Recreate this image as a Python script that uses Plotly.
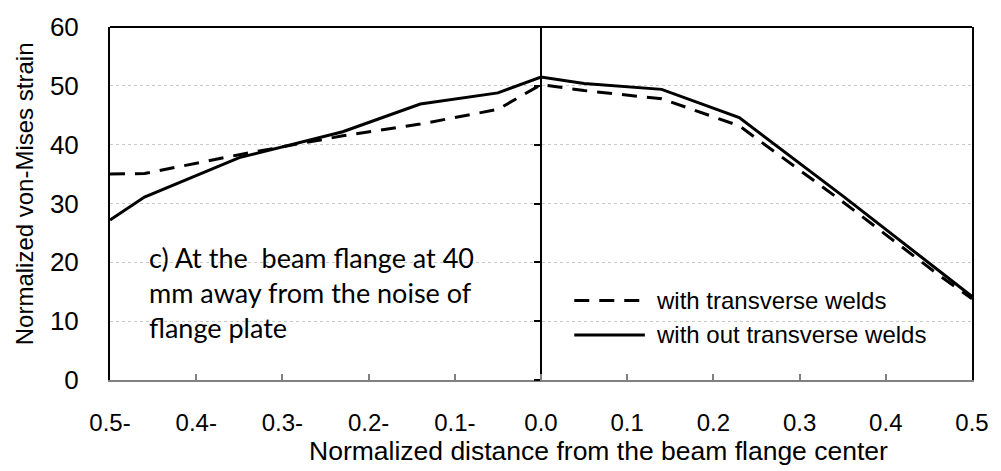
import plotly.graph_objects as go

# Normalized position along the beam flange (centre = 0)
x_pos = [-0.5, -0.46, -0.35, -0.23, -0.14, -0.05, 0.0, 0.05, 0.14, 0.23, 0.35, 0.46, 0.5]

# Normalized von-Mises strain for the two weld configurations
with_welds = [35.0, 35.1, 38.3, 41.5, 43.5, 46.0, 50.2, 49.2, 47.8, 43.2, 30.3, 18.0, 13.8]
without_welds = [27.2, 31.1, 37.8, 42.2, 46.9, 48.8, 51.5, 50.4, 49.4, 44.6, 31.3, 18.8, 14.2]

series_names = ["with transverse welds", "with out transverse welds"]

x_tick_vals = [-0.5, -0.4, -0.3, -0.2, -0.1, 0.0, 0.1, 0.2, 0.3, 0.4, 0.5]
x_tick_text = ["0.5-", "0.4-", "0.3-", "0.2-", "0.1-", "0.0", "0.1", "0.2", "0.3", "0.4", "0.5"]
y_tick_vals = [0, 10, 20, 30, 40, 50, 60]

FONT = "Liberation Sans, Arial, sans-serif"
DASH = "15px,10px"

fig = go.Figure()
fig.add_trace(go.Scatter(
    x=x_pos, y=with_welds, mode="lines", name=series_names[0],
    line=dict(color="black", width=3, dash=DASH), showlegend=False,
))
fig.add_trace(go.Scatter(
    x=x_pos, y=without_welds, mode="lines", name=series_names[1],
    line=dict(color="black", width=3), showlegend=False, yaxis="y2",
))

fig.update_layout(
    width=1001, height=471,
    margin=dict(l=110, r=24, t=20, b=91),
    paper_bgcolor="white", plot_bgcolor="white",
    font=dict(family=FONT, size=24, color="black"),
    xaxis=dict(
        range=[-0.5, 0.5], tickvals=x_tick_vals, ticktext=x_tick_text,
        showline=True, linecolor="#808080", linewidth=2,
        ticks="inside", ticklen=6, tickwidth=2, tickcolor="#808080",
        showgrid=False, zeroline=False, ticklabelstandoff=20,
        tickfont=dict(size=24),
    ),
    yaxis=dict(
        range=[0, 60], tickvals=y_tick_vals,
        showline=True, linecolor="black", linewidth=2, mirror=True,
        ticks="", showgrid=True, gridcolor="#c8c8c8", griddash="dot", gridwidth=1,
        zeroline=False, ticklabelstandoff=24, tickfont=dict(size=26),
    ),
    # centre axis drawn at x = 0 with its own tick marks
    yaxis2=dict(
        range=[0, 60], tickvals=y_tick_vals, overlaying="y", anchor="free",
        position=0.5, side="left", showline=True, linecolor="black", linewidth=2,
        ticks="outside", ticklen=6, tickwidth=2, tickcolor="black",
        showticklabels=False, showgrid=False, zeroline=False,
    ),
)

# top border of the plotting frame
fig.add_shape(type="line", xref="paper", yref="paper", x0=0, x1=1, y0=1, y1=1,
              line=dict(color="black", width=2))

# axis titles
fig.add_annotation(text="Normalized distance from the beam flange center",
                   xref="paper", yref="paper", x=0.567, y=-0.2,
                   xanchor="center", yanchor="middle", showarrow=False,
                   font=dict(family=FONT, size=26.5, color="black"))
fig.add_annotation(text="Normalized von-Mises strain",
                   xref="paper", yref="paper", x=-0.099, y=0.528, textangle=-90,
                   xanchor="center", yanchor="middle", showarrow=False,
                   font=dict(family=FONT, size=24, color="black"))

# panel caption
fig.add_annotation(text="c) At the \u00a0beam flange at 40<br>mm away from the noise of<br>flange plate",
                   xref="paper", yref="paper", x=0.0427, y=0.248,
                   xanchor="left", yanchor="middle", align="left", showarrow=False,
                   font=dict(family="Lato, Open Sans, sans-serif", size=27, color="black"))

# legend: line samples with labels
legend_rows = [(0.225, DASH, series_names[0]), (0.1278, "solid", series_names[1])]
for ypos, dash, label in legend_rows:
    fig.add_shape(type="line", xref="paper", yref="paper",
                  x0=0.5386, x1=0.6205, y0=ypos, y1=ypos,
                  line=dict(color="black", width=3, dash=dash))
    fig.add_annotation(text=label, xref="paper", yref="paper", x=0.6309, y=ypos,
                       xanchor="left", yanchor="middle", showarrow=False,
                       font=dict(family=FONT, size=24, color="black"))

fig.write_html("out.html")
